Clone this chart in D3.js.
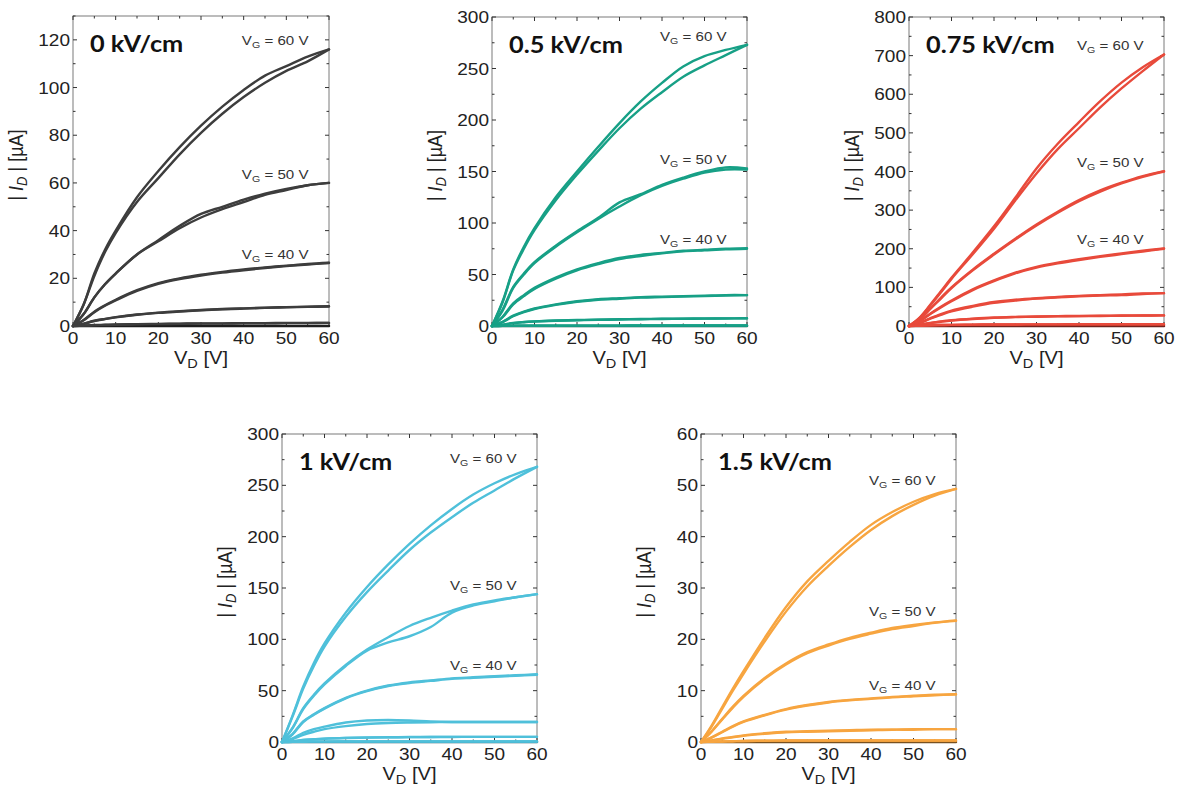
<!DOCTYPE html>
<html>
<head>
<meta charset="utf-8">
<script src="https://cdn.jsdelivr.net/npm/d3@7"></script>
<style>
  body { margin: 0; background: #fff; }
  svg { display: block; }
</style>
</head>
<body>
<div id="chart"></div>
<script>
// drain voltage grid (V)
const vd = [0, 2.5, 5, 7.5, 10, 15, 20, 25, 30, 35, 40, 45, 50, 55, 60];
const fields = ['0 kV/cm', '0.5 kV/cm', '0.75 kV/cm', '1 kV/cm', '1.5 kV/cm'];
const gates = [60, 50, 40, 30, 20, 10];
const colors = ['#3d3d3d', '#17a086', '#e84a3b', '#4fc0da', '#f7a540'];
const yMax = [130, 300, 800, 300, 60];
const yStep = [20, 50, 100, 50, 10];
const xTicks = [0, 10, 20, 30, 40, 50, 60];

// |I_D| in uA, each gate: [forward sweep, reverse sweep]
const id0 = [
  [[0, 9, 22, 32, 40, 54, 65, 75, 84, 92, 99, 105, 109, 113, 116],
   [0, 9, 21, 31, 39, 52, 62, 72, 81, 89, 96, 102, 107, 111, 116]],
  [[0, 5, 12, 17.5, 22, 30, 36, 42, 47, 50, 53, 55.5, 57.5, 59, 60],
   [0, 5, 12, 17.5, 22, 30, 35.5, 41, 45.5, 49, 52, 55, 57, 59, 60]],
  [[0, 2.5, 6, 8.7, 11, 15, 18, 20, 21.5, 22.7, 23.7, 24.6, 25.3, 26, 26.5],
   [0, 2.4, 5.8, 8.5, 10.7, 14.7, 17.7, 19.7, 21.2, 22.4, 23.4, 24.3, 25.1, 25.8, 26.4]],
  [[0, 1, 2.2, 3.0, 3.7, 4.8, 5.6, 6.2, 6.7, 7.1, 7.4, 7.7, 7.9, 8.1, 8.3],
   [0, 0.9, 2.1, 2.9, 3.6, 4.7, 5.5, 6.1, 6.6, 7.0, 7.3, 7.6, 7.8, 8.0, 8.2]],
  [[0, 0.2, 0.4, 0.5, 0.6, 0.8, 0.9, 1, 1.1, 1.1, 1.2, 1.2, 1.3, 1.3, 1.3],
   [0, 0.15, 0.3, 0.4, 0.5, 0.7, 0.8, 0.9, 1, 1, 1.1, 1.1, 1.2, 1.2, 1.3]]
];
const id05 = [
  [[0, 24, 55, 77, 95, 125, 150, 174, 197, 218, 236, 252, 262, 268, 273],
   [0, 23, 54, 75, 93, 122, 147, 170, 192, 211, 227, 242, 253, 263, 273]],
  [[0, 16, 38, 51, 62, 78, 92, 105, 120, 128, 137, 144, 150, 154, 153],
   [0, 15, 37, 50, 61, 77, 91, 104, 116, 127, 136, 143, 149, 152, 152]],
  [[0, 9, 22, 30, 37, 47, 55, 61, 66, 69, 71, 73, 74, 75, 75.5],
   [0, 8.5, 21, 29, 36, 46, 54, 60, 65, 68, 70.5, 72.5, 73.5, 74.5, 75]],
  [[0, 4, 10, 14, 17, 21, 24, 26, 27, 28, 28.5, 29, 29.5, 30, 30],
   [0, 3.8, 9.5, 13.5, 16.5, 20.5, 23.5, 25.5, 26.5, 27.5, 28, 28.5, 29, 29.5, 30]],
  [[0, 1.2, 3, 3.9, 4.5, 5.3, 5.8, 6.2, 6.5, 6.8, 7, 7.2, 7.3, 7.4, 7.5],
   [0, 1.1, 2.8, 3.7, 4.3, 5.1, 5.6, 6.0, 6.3, 6.6, 6.8, 7.0, 7.2, 7.3, 7.5]],
  [[0, 0.1, 0.2, 0.25, 0.3, 0.3, 0.4, 0.4, 0.4, 0.5, 0.5, 0.5, 0.5, 0.5, 0.5],
   [0, 0.1, 0.2, 0.25, 0.3, 0.3, 0.4, 0.4, 0.4, 0.5, 0.5, 0.5, 0.5, 0.5, 0.5]]
];
const id075 = [
  [[0, 22, 55, 90, 125, 190, 258, 332, 408, 472, 528, 582, 630, 670, 703],
   [0, 21, 53, 87, 122, 186, 252, 325, 395, 458, 512, 566, 615, 660, 703]],
  [[0, 18, 45, 73, 100, 146, 187, 226, 263, 296, 326, 351, 371, 388, 401],
   [0, 17, 44, 71, 98, 144, 185, 224, 260, 293, 323, 348, 369, 386, 400]],
  [[0, 13, 32, 50, 66, 95, 118, 138, 153, 164, 173, 181, 188, 195, 201],
   [0, 12, 31, 48, 64, 93, 116, 136, 151, 162, 171, 179, 186, 193, 200]],
  [[0, 8, 20, 31, 40, 52, 62, 68, 72, 75, 78, 80, 82, 84, 85],
   [0, 7.5, 19, 29, 38, 50, 60, 66, 71, 74, 77, 79, 80, 83, 85]],
  [[0, 3, 8, 12, 15, 19, 22, 23.5, 24.5, 25.5, 26, 26.5, 27, 27, 27.5],
   [0, 3, 7.5, 11, 14, 18, 21, 23, 24, 25, 25.5, 26, 26.5, 27, 27.5]],
  [[0, 0.8, 2, 2.6, 3, 3.5, 4, 4, 4.2, 4.3, 4.4, 4.5, 4.5, 4.6, 4.6],
   [0, 0.8, 2, 2.6, 3, 3.5, 4, 4, 4.2, 4.3, 4.4, 4.5, 4.5, 4.6, 4.6]]
];
const id1 = [
  [[0, 26, 54, 77, 96, 126, 151, 173, 193, 211, 227, 241, 252, 261, 268],
   [0, 25, 52, 74, 93, 122, 146, 167, 187, 204, 219, 233, 245, 257, 268]],
  [[0, 14, 33, 46, 57, 75, 90, 102, 113, 121, 128, 134, 138, 141, 144],
   [0, 13.5, 32, 45, 56, 74, 89, 97, 103, 112, 126, 133, 137, 141, 144]],
  [[0, 8, 20, 27, 33, 43, 50, 55, 58, 60, 62, 63, 64, 65, 66],
   [0, 7.5, 19.5, 26.5, 32.5, 42.5, 49.5, 54.5, 57.5, 59.5, 61.5, 62.5, 63.5, 64.5, 65.5]],
  [[0, 3.5, 9, 12.5, 15, 19, 21, 21.5, 21, 20, 19.5, 19.5, 19.5, 19.5, 19.5],
   [0, 2.8, 7, 10, 12.5, 15.5, 17.5, 18.5, 19, 19.3, 19.5, 19.5, 19.5, 19.5, 19.5]],
  [[0, 0.8, 2, 2.7, 3.3, 4, 4.4, 4.6, 4.8, 4.9, 5, 5, 5, 5, 5],
   [0, 0.7, 1.9, 2.6, 3.2, 3.9, 4.3, 4.5, 4.7, 4.8, 4.9, 5, 5, 5, 5]],
  [[0, 0.1, 0.3, 0.35, 0.4, 0.5, 0.5, 0.5, 0.5, 0.5, 0.5, 0.5, 0.5, 0.5, 0.5],
   [0, 0.1, 0.3, 0.35, 0.4, 0.5, 0.5, 0.5, 0.5, 0.5, 0.5, 0.5, 0.5, 0.5, 0.5]]
];
const id15 = [
  [[0, 3.2, 6.8, 10.4, 13.8, 20.3, 26.3, 31.3, 35.3, 39, 42.3, 44.8, 46.8, 48.3, 49.3],
   [0, 3.0, 6.5, 10.0, 13.3, 19.6, 25.4, 30.3, 34.3, 38, 41.3, 44, 46.2, 48, 49.3]],
  [[0, 2.1, 4.5, 6.9, 9, 12.5, 15.3, 17.5, 19, 20.3, 21.3, 22.2, 22.8, 23.3, 23.7],
   [0, 2.0, 4.4, 6.7, 8.8, 12.3, 15.1, 17.3, 18.8, 20.1, 21.1, 22, 22.6, 23.2, 23.6]],
  [[0, 0.9, 2, 3.1, 4, 5.3, 6.4, 7.2, 7.8, 8.2, 8.5, 8.8, 9, 9.2, 9.3],
   [0, 0.85, 1.9, 3.0, 3.9, 5.2, 6.3, 7.1, 7.7, 8.1, 8.4, 8.7, 8.9, 9.1, 9.3]],
  [[0, 0.3, 0.7, 1.0, 1.3, 1.7, 2, 2.1, 2.2, 2.3, 2.4, 2.4, 2.5, 2.5, 2.5],
   [0, 0.25, 0.6, 0.9, 1.2, 1.6, 1.9, 2.0, 2.1, 2.2, 2.3, 2.4, 2.4, 2.5, 2.5]],
  [[0, 0.05, 0.1, 0.15, 0.2, 0.25, 0.3, 0.3, 0.3, 0.3, 0.3, 0.3, 0.3, 0.3, 0.3],
   [0, 0.05, 0.1, 0.15, 0.2, 0.25, 0.3, 0.3, 0.3, 0.3, 0.3, 0.3, 0.3, 0.3, 0.3]]
];
const panelsData = [id0, id05, id075, id1, id15];

// layout of the five plot frames
const frames = [
  { x: 73, y: 16, w: 256, h: 310 },
  { x: 492, y: 17, w: 255, h: 309 },
  { x: 909, y: 17, w: 255, h: 309 },
  { x: 282, y: 434, w: 255, h: 308 },
  { x: 701, y: 434, w: 255, h: 308 }
];

const W = 1184, H = 800;
const SX = 1.12; // the source figure is stretched horizontally
const FONT = '"Liberation Sans", Arial, sans-serif';
const ink = '#222';

const svg = d3.select('#chart').append('svg')
  .attr('width', W)
  .attr('height', H)
  .attr('viewBox', `0 0 ${W} ${H}`);

function txt(g, x, y, anchor, size) {
  return g.append('text')
    .attr('transform', `translate(${x},${y}) scale(${SX},1)`)
    .attr('text-anchor', anchor)
    .attr('font-family', FONT)
    .attr('font-size', size)
    .attr('fill', ink);
}

frames.forEach((f, i) => {
  const g = svg.append('g').attr('transform', `translate(${f.x},${f.y})`);
  const x = d3.scaleLinear().domain([0, 60]).range([0, f.w]);
  const y = d3.scaleLinear().domain([0, yMax[i]]).range([f.h, 0]);
  const color = colors[i];

  // frame
  g.append('rect')
    .attr('width', f.w).attr('height', f.h)
    .attr('fill', 'none').attr('stroke', '#7a7a7a').attr('stroke-width', 1);

  // inward ticks on all four sides
  const ticks = g.append('g').attr('stroke', '#333').attr('stroke-width', 1);
  d3.range(0, 60.01, 5).forEach(v => {
    const len = v % 10 === 0 ? 4 : 2.5;
    ticks.append('line').attr('x1', x(v)).attr('x2', x(v)).attr('y1', f.h).attr('y2', f.h - len);
    ticks.append('line').attr('x1', x(v)).attr('x2', x(v)).attr('y1', 0).attr('y2', len);
  });
  d3.range(0, yMax[i] + 0.01, yStep[i] / 2).forEach((v, k) => {
    const len = k % 2 === 0 ? 4 : 2.5;
    ticks.append('line').attr('y1', y(v)).attr('y2', y(v)).attr('x1', 0).attr('x2', len);
    ticks.append('line').attr('y1', y(v)).attr('y2', y(v)).attr('x1', f.w).attr('x2', f.w - len);
  });

  // tick labels
  xTicks.forEach(v => {
    txt(g, x(v), f.h + 18, 'middle', 17).text(v);
  });
  d3.range(0, yMax[i] + 0.01, yStep[i]).forEach(v => {
    txt(g, -3, y(v) + 6, 'end', 17).text(v);
  });

  // axis titles
  const xt = txt(g, f.w / 2, f.h + 38, 'middle', 18);
  xt.append('tspan').text('V');
  xt.append('tspan').attr('dy', 4).attr('font-size', 13).text('D');
  xt.append('tspan').attr('dy', -4).text(' [V]');

  const yt = g.append('text')
    .attr('transform', `translate(${-50},${f.h / 2 - 6}) scale(${SX},1) rotate(-90)`)
    .attr('text-anchor', 'middle')
    .attr('font-family', FONT)
    .attr('font-size', 18)
    .attr('fill', ink);
  yt.append('tspan').text('| ');
  yt.append('tspan').attr('font-style', 'italic').text('I');
  yt.append('tspan').attr('dy', 4).attr('font-size', 13).attr('font-style', 'italic').text('D');
  yt.append('tspan').attr('dy', -4).text(' | [\u00b5A]');

  // curves
  const line = d3.line()
    .x(d => x(d[0]))
    .y(d => y(d[1]))
    .curve(d3.curveCatmullRom.alpha(0.5));

  const curves = g.append('g')
    .attr('fill', 'none')
    .attr('stroke-linejoin', 'round')
    .attr('stroke-linecap', 'round');

  // off-state trace lying on the axis
  curves.append('path')
    .attr('d', line(vd.map(v => [v, 0])))
    .attr('stroke', d3.color(color).darker(2))
    .attr('stroke-width', 2.5);

  panelsData[i].forEach(pair => {
    pair.forEach(sweep => {
      curves.append('path')
        .attr('d', line(vd.map((v, k) => [v, sweep[k]])))
        .attr('stroke', color)
        .attr('stroke-width', 2.4);
    });
  });

  // gate labels for the top three curves
  panelsData[i].slice(0, 3).forEach((pair, k) => {
    const end = pair[0][pair[0].length - 1];
    const t = txt(g, x(55.2), y(end) - 4, 'end', 13.5).attr('fill', '#333');
    t.append('tspan').text('V');
    t.append('tspan').attr('dy', 3).attr('font-size', 9.5).text('G');
    t.append('tspan').attr('dy', -3).text(` = ${gates[k]} V`);
  });

  // field title
  g.append('text')
    .attr('transform', `translate(${17},${36}) scale(1.15,1)`)
    .attr('font-family', 'Lato, "Open Sans", sans-serif')
    .attr('font-weight', 700)
    .attr('font-size', 22)
    .attr('fill', '#111')
    .text(fields[i]);
});
</script>
</body>
</html>
